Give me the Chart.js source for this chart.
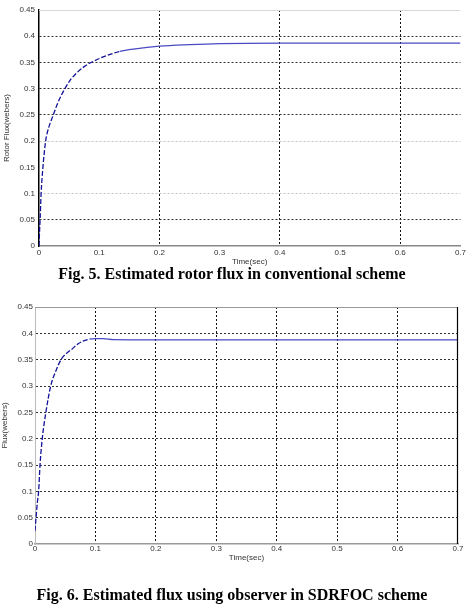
<!DOCTYPE html>
<html>
<head>
<meta charset="utf-8">
<script src="https://cdn.jsdelivr.net/npm/chart.js@4/dist/chart.umd.min.js"></script>
<style>
  html, body { margin: 0; padding: 0; background: #fff; }
  body { width: 468px; height: 606px; position: relative; overflow: hidden; }
  .box { position: absolute; left: 0; width: 468px; height: 268px; }
  .cap { position: absolute; left: 0; width: 464px; text-align: center;
         font: bold 16px "Liberation Serif", "Times New Roman", serif; color: #000; line-height: 18px; }
</style>
</head>
<body>
<div class="box" style="top:0px"><canvas id="c1" width="468" height="268"></canvas></div>
<div class="cap" style="top:265px">Fig. 5. Estimated rotor flux in conventional scheme</div>
<div class="box" style="top:298px"><canvas id="c2" width="468" height="268"></canvas></div>
<div class="cap" style="top:586px">Fig. 6. Estimated flux using observer in SDRFOC scheme</div>
<script>
// ---- data ----
const timeTicks = [0, 0.1, 0.2, 0.3, 0.4, 0.5, 0.6, 0.7];
const timeTickLabels = ['0', '0.1', '0.2', '0.3', '0.4', '0.5', '0.6', '0.7'];
const fluxTicks = [0, 0.05, 0.1, 0.15, 0.2, 0.25, 0.3, 0.35, 0.4, 0.45];
const fluxTickLabels = ['0', '0.05', '0.1', '0.15', '0.2', '0.25', '0.3', '0.35', '0.4', '0.45'];

const rotorTime = [0, 0.001, 0.002, 0.0035, 0.0065, 0.011, 0.0137, 0.0237, 0.032, 0.043, 0.051, 0.06, 0.075, 0.09, 0.11, 0.134, 0.16, 0.2, 0.25, 0.3, 0.4, 0.5, 0.6, 0.7];
const rotorFlux = [0, 0.03, 0.055, 0.1, 0.15, 0.2, 0.216, 0.25, 0.275, 0.3, 0.315, 0.327, 0.342, 0.352, 0.362, 0.371, 0.376, 0.381, 0.384, 0.386, 0.387, 0.387, 0.387, 0.387];

const obsTime = [0, 0.0017, 0.004, 0.006, 0.0083, 0.012, 0.018, 0.026, 0.035, 0.043, 0.052, 0.061, 0.07, 0.079, 0.09, 0.1, 0.113, 0.13, 0.2, 0.3, 0.4, 0.5, 0.6, 0.7];
const obsFlux = [0.025, 0.05, 0.08, 0.1, 0.15, 0.2, 0.25, 0.3, 0.33, 0.35, 0.362, 0.37, 0.379, 0.385, 0.389, 0.39, 0.39, 0.388, 0.3875, 0.3875, 0.3875, 0.3875, 0.3875, 0.3875];

const yTitle1 = 'Rotor Flux(webers)';
const yTitle2 = 'Flux(webers)';
const xTitle = 'Time(sec)';

// ---- helpers ----
const near = (a, b) => Math.abs(a - b) < 1e-6;

const framePlugin = {
  id: 'frame',
  afterDatasetsDraw(chart, args, opts) {
    const { ctx, chartArea: a } = chart;
    ctx.save();
    ctx.setLineDash([]);
    if (opts.top) {
      ctx.strokeStyle = opts.top; ctx.lineWidth = 1;
      ctx.beginPath(); ctx.moveTo(a.left, a.top + 0.5); ctx.lineTo(a.right, a.top + 0.5); ctx.stroke();
    }
    if (opts.right) {
      ctx.strokeStyle = opts.right; ctx.lineWidth = 1.2;
      ctx.beginPath(); ctx.moveTo(a.right - 0.5, a.top); ctx.lineTo(a.right - 0.5, a.bottom); ctx.stroke();
    }
    ctx.restore();
  }
};

function makeChart(id, cfg) {
  const pts = cfg.xs.map((x, i) => ({ x: x, y: cfg.ys[i] }));
  return new Chart(document.getElementById(id), {
    type: 'line',
    data: {
      datasets: [{
        data: pts,
        borderColor: '#2a2aaa',
        borderWidth: 1.3,
        pointRadius: 0,
        cubicInterpolationMode: 'monotone',
        segment: {
          borderDash: c => {
            const dx = c.p1.parsed.x - c.p0.parsed.x;
            const dy = c.p1.parsed.y - c.p0.parsed.y;
            return (dx > 0 && Math.abs(dy / dx) > 0.2) ? [5, 2] : undefined;
          },
          borderColor: c => {
            const dx = c.p1.parsed.x - c.p0.parsed.x;
            const dy = c.p1.parsed.y - c.p0.parsed.y;
            return (dx > 0 && Math.abs(dy / dx) > 0.2) ? '#12129a' : '#4a4ac4';
          }
        }
      }]
    },
    plugins: [framePlugin],
    options: {
      responsive: false,
      animation: false,
      events: [],
      layout: { padding: { top: 10 - (id === 'c2' ? 1 : 0), right: cfg.padRight, left: 0, bottom: 0 } },
      plugins: {
        legend: { display: false },
        tooltip: { enabled: false },
        frame: { top: cfg.frameTop, right: cfg.frameRight }
      },
      scales: {
        x: {
          type: 'linear',
          min: 0, max: 0.7,
          afterBuildTicks: s => { s.ticks = timeTicks.map(v => ({ value: v })); },
          afterFit: s => { s.height = 22; },
          ticks: {
            autoSkip: false, maxRotation: 0, padding: cfg.xTickPad,
            color: '#333',
            font: { family: 'Liberation Sans', size: 8 },
            callback: (v, i) => timeTickLabels[i]
          },
          grid: {
            drawTicks: false,
            lineWidth: 1,
            color: c => cfg.xGridColor(c.tick ? c.tick.value : -1)
          },
          border: { display: true, color: cfg.xBorder, width: 1.5, dash: [2, 2] },
          title: {
            display: true, text: xTitle, color: '#333',
            font: { family: 'Liberation Sans', size: 8 },
            padding: { top: 0, bottom: cfg.xTitlePad }
          }
        },
        y: {
          type: 'linear',
          min: 0, max: 0.45,
          afterBuildTicks: s => { s.ticks = fluxTicks.map(v => ({ value: v })); },
          afterFit: s => { s.width = cfg.yWidth; },
          ticks: {
            autoSkip: false, padding: cfg.yTickPad,
            color: '#333',
            font: { family: 'Liberation Sans', size: 8 },
            callback: (v, i) => fluxTickLabels[i]
          },
          grid: {
            drawTicks: false,
            lineWidth: 1,
            color: c => cfg.yGridColor(c.tick ? c.tick.value : -1)
          },
          border: { display: true, color: cfg.yBorder, width: cfg.yBorderWidth, dash: [2, 2] },
          title: {
            display: true, text: cfg.yTitle, color: '#333',
            font: { family: 'Liberation Sans', size: 8 },
            padding: { top: cfg.yTitlePad, bottom: 0 }
          }
        }
      }
    }
  });
}

makeChart('c1', {
  xs: rotorTime, ys: rotorFlux, yTitle: yTitle1,
  padRight: 6, yWidth: 39, yTickPad: 4, xTickPad: 2, xTitlePad: 1, yTitlePad: 2,
  frameTop: '#d8d8d8', frameRight: null,
  xBorder: '#888', yBorder: '#000', yBorderWidth: 1.5,
  xGridColor: v => ([0.2, 0.4, 0.6].some(t => near(v, t)) ? '#111' : 'rgba(0,0,0,0)'),
  yGridColor: v => {
    if (near(v, 0) || near(v, 0.45) || near(v, 0.15)) return 'rgba(0,0,0,0)';
    if (near(v, 0.2) || near(v, 0.1)) return '#c4c4c4';
    return '#333';
  }
});

makeChart('c2', {
  xs: obsTime, ys: obsFlux, yTitle: yTitle2,
  padRight: 10, yWidth: 35, yTickPad: 2, xTickPad: 0, xTitlePad: 3, yTitlePad: 0,
  frameTop: '#999', frameRight: '#000',
  xBorder: '#999', yBorder: '#bbb', yBorderWidth: 1,
  xGridColor: v => ((near(v, 0) || near(v, 0.7)) ? 'rgba(0,0,0,0)' : '#111'),
  yGridColor: v => ((near(v, 0) || near(v, 0.45)) ? 'rgba(0,0,0,0)' : '#333')
});
</script>
</body>
</html>
